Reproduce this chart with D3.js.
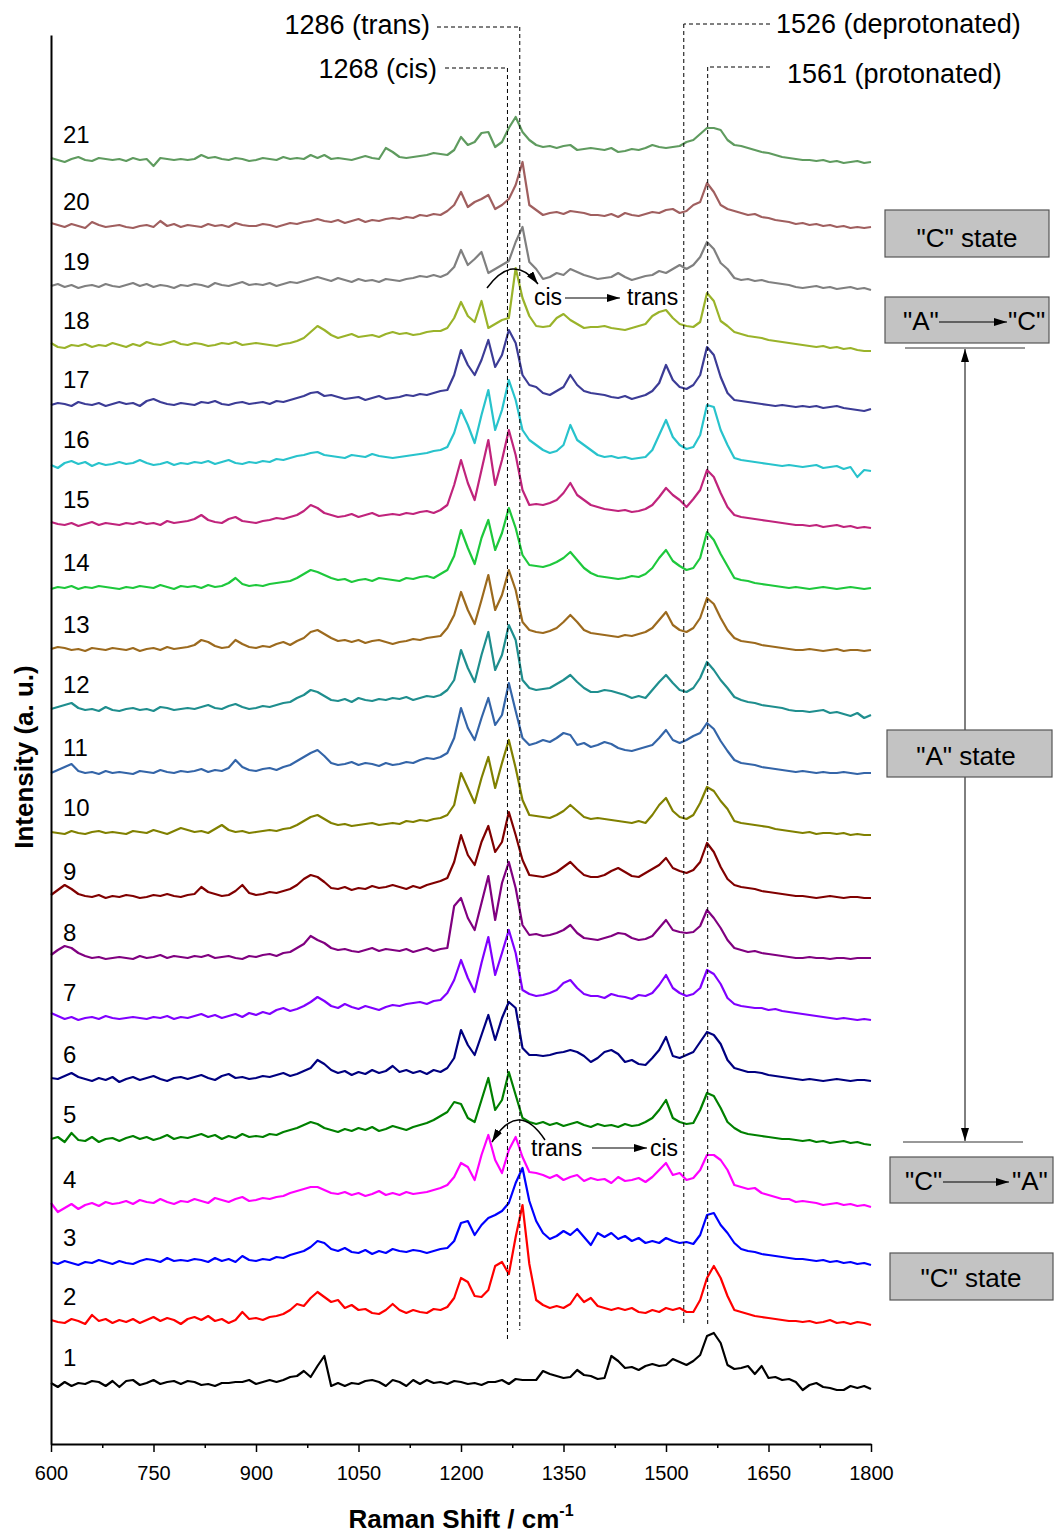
<!DOCTYPE html>
<html>
<head>
<meta charset="utf-8">
<script src="https://cdn.jsdelivr.net/npm/d3@7"></script>
<style>
body { margin: 0; background: #fff; }
text { font-family: "Liberation Sans", Arial, sans-serif; fill: #000; }
</style>
</head>
<body>
<script>
// Raman shift grid (cm-1), one sample every 10 cm-1
var shifts = [
  600,610,620,630,640,650,660,670,680,690,
  700,710,720,730,740,750,760,770,780,790,
  800,810,820,830,840,850,860,870,880,890,
  900,910,920,930,940,950,960,970,980,990,
  1000,1010,1020,1030,1040,1050,1060,1070,1080,1090,
  1100,1110,1120,1130,1140,1150,1160,1170,1180,1190,
  1200,1210,1220,1230,1240,1250,1260,1270,1280,1290,
  1300,1310,1320,1330,1340,1350,1360,1370,1380,1390,
  1400,1410,1420,1430,1440,1450,1460,1470,1480,1490,
  1500,1510,1520,1530,1540,1550,1560,1570,1580,1590,
  1600,1610,1620,1630,1640,1650,1660,1670,1680,1690,
  1700,1710,1720,1730,1740,1750,1760,1770,1780,1790,
  1800
];

// intensities (a.u.), relative to each trace's own baseline
var s1 = [
  0,-4,1,-3,0,-1,2,1,-3,2,
  -4,2,3,-2,0,3,-1,1,2,-1,
  2,1,-2,-1,-3,0,0,1,1,3,
  -1,1,3,1,3,6,7,12,6,17,
  27,-3,0,-3,0,-1,2,3,1,-3,
  3,1,-3,3,-1,3,0,1,-1,2,
  1,-1,0,-2,1,1,3,-1,4,3,
  3,3,12,9,7,5,6,13,8,7,
  4,5,27,22,15,16,13,17,19,17,
  18,24,21,18,22,28,47,50,40,18,
  14,15,17,9,17,5,6,3,4,1,
  -7,-2,0,-4,-5,-7,-7,-3,-5,-3,
  -6];
var s2 = [
  2,0,-1,3,1,-2,7,1,3,-1,
  2,0,3,-1,2,5,1,4,2,-2,
  3,5,2,6,1,3,-1,2,10,3,
  4,2,5,6,8,12,18,16,24,30,
  25,20,22,14,17,12,13,9,8,12,
  18,12,9,12,10,9,13,12,15,24,
  44,40,26,25,32,56,60,48,85,117,
  58,22,17,14,16,14,18,28,20,24,
  16,14,12,14,12,14,10,9,12,10,
  14,12,14,10,10,22,44,56,44,26,
  12,10,8,6,5,4,3,2,1,1,
  0,1,-1,0,2,-1,0,-2,0,-1,
  -3];
var s3 = [
  1,-1,2,0,-2,1,0,3,1,-1,
  2,0,-1,2,4,3,1,5,2,3,
  2,4,3,1,5,2,4,1,7,3,
  2,4,3,6,5,8,10,12,16,22,
  20,14,12,15,11,10,13,9,12,10,
  14,12,11,13,12,10,12,14,15,22,
  40,42,28,38,45,48,52,60,80,95,
  62,42,30,24,27,32,28,34,26,18,
  30,26,30,24,27,22,25,20,22,20,
  25,22,20,21,19,28,48,50,38,30,
  20,14,12,11,9,8,7,6,5,4,
  4,3,2,3,1,2,0,1,-1,0,
  -2];
var s4 = [
  2,-7,-3,1,-4,0,2,-1,3,1,
  2,4,1,5,3,2,6,3,1,4,
  3,6,4,2,7,5,3,6,8,4,
  5,7,6,8,9,12,14,16,18,18,
  15,12,11,13,10,12,9,11,14,10,
  12,10,13,11,12,13,15,17,20,28,
  42,38,25,50,70,45,32,55,68,48,
  33,32,30,27,30,25,28,30,24,27,
  25,26,22,28,24,25,27,23,28,35,
  42,30,32,25,27,35,50,50,45,35,
  20,18,16,17,12,10,8,6,6,3,
  4,3,2,0,1,2,0,1,-1,0,
  -2];
var s5 = [
  1,3,-2,7,0,-1,3,-2,1,2,
  -1,2,4,1,3,0,2,5,1,3,
  2,4,6,3,5,1,4,2,6,3,
  4,3,6,5,8,10,12,15,18,16,
  12,10,8,11,9,12,10,13,9,11,
  14,12,10,13,15,17,20,24,28,38,
  36,22,18,40,62,30,40,68,45,22,
  18,16,18,15,17,14,16,18,15,13,
  16,14,15,13,16,14,15,18,22,30,
  40,22,18,16,17,30,47,44,32,18,
  12,8,6,5,4,3,2,1,1,0,
  -1,0,-2,-1,-3,-2,-1,-3,-2,-4,
  -5];
var s6 = [
  2,1,4,7,3,1,-1,2,0,3,
  -2,1,3,0,2,4,1,-1,2,3,
  1,3,5,2,0,4,6,2,3,1,
  2,4,3,5,7,4,6,9,12,20,
  16,10,7,9,5,8,6,10,7,9,
  14,8,10,7,9,6,10,8,12,22,
  50,35,25,45,65,40,62,78,72,32,
  25,25,24,25,27,28,30,28,24,18,
  22,28,30,26,18,20,16,15,22,30,
  43,24,22,25,28,38,48,45,36,20,
  12,10,8,8,7,5,4,3,2,1,
  0,1,0,-1,0,1,0,-1,0,0,
  -1];
var s7 = [
  5,2,-1,1,-2,0,1,-1,2,0,
  -1,0,1,0,-1,1,0,2,-1,1,
  0,2,4,1,3,0,2,4,1,5,
  3,6,4,8,10,7,9,12,16,21,
  17,12,10,14,11,9,12,10,8,11,
  13,12,14,15,16,14,17,18,25,38,
  58,40,26,55,81,43,65,88,65,28,
  24,22,23,25,28,35,38,30,24,22,
  22,20,24,22,21,19,23,22,25,33,
  43,30,25,22,24,30,48,44,34,20,
  14,12,11,10,10,8,9,7,6,5,
  4,3,2,1,0,-1,0,-1,-2,-1,
  -2];
var s8 = [
  3,8,12,10,5,2,0,1,-1,0,
  1,0,-1,2,0,1,3,0,2,1,
  0,2,1,3,0,1,2,0,-1,2,
  1,3,4,2,5,6,10,14,22,18,
  15,10,8,9,7,6,8,10,7,9,
  8,7,9,6,8,10,7,9,10,52,
  60,40,28,55,82,38,75,96,70,33,
  23,24,22,23,25,28,33,25,20,19,
  18,20,22,25,24,20,18,19,22,30,
  38,28,26,25,26,32,48,40,30,18,
  10,8,6,7,5,4,3,2,1,0,
  0,1,0,0,-1,0,0,-1,0,0,
  0];
var s9 = [
  2,7,12,8,3,1,0,2,-1,1,
  0,2,1,-1,0,2,1,3,1,0,
  2,3,10,5,3,1,2,6,12,4,
  2,3,5,4,6,8,12,18,22,20,
  15,9,8,10,7,9,8,11,9,10,
  12,10,8,11,9,12,14,16,19,35,
  62,42,32,55,71,45,55,85,62,37,
  22,21,20,22,25,30,35,28,22,20,
  20,22,26,29,25,21,20,24,28,32,
  39,29,26,24,27,35,54,45,30,18,
  12,10,9,8,6,5,4,3,2,1,
  1,0,-1,0,1,0,-1,0,0,-1,
  -1];
var s10 = [
  1,0,-1,2,0,-1,1,2,0,1,
  0,-1,2,1,0,3,1,-1,2,5,
  3,1,2,0,4,8,3,1,2,0,
  1,2,3,2,4,5,8,12,16,18,
  14,10,8,9,7,8,9,10,8,9,
  10,9,12,11,13,12,14,15,18,28,
  60,45,30,55,76,45,70,93,65,33,
  18,17,16,15,18,22,28,22,16,14,
  15,14,13,12,11,10,12,10,18,28,
  35,22,16,14,18,30,46,42,32,24,
  12,10,9,8,7,6,4,3,2,1,
  0,1,-1,0,0,-1,0,-2,-1,-2,
  -2];
var s11 = [
  0,3,6,9,2,0,1,-1,2,0,
  1,0,-1,2,1,0,3,1,0,2,
  1,2,4,1,3,2,5,13,6,3,
  2,4,5,3,6,8,12,16,20,23,
  17,10,8,9,11,8,10,9,7,10,
  8,9,11,10,13,15,14,16,20,35,
  65,45,33,55,75,48,58,90,62,35,
  28,30,33,31,35,40,38,28,30,26,
  28,31,29,25,23,22,24,26,28,35,
  43,33,30,33,37,40,50,44,32,22,
  13,10,9,8,6,5,4,3,2,1,
  2,1,0,1,0,0,1,0,-1,0,
  0];
var s12 = [
  1,3,5,7,2,0,1,-1,3,0,
  -1,1,2,0,1,-1,3,2,0,1,
  2,1,3,5,2,1,4,6,3,1,
  2,4,3,5,7,8,12,15,20,18,
  14,10,9,11,8,12,10,9,11,10,
  12,11,13,10,12,14,13,15,20,30,
  60,42,28,55,78,40,55,85,70,30,
  22,20,21,22,26,30,35,28,22,18,
  18,20,19,17,15,12,14,12,20,28,
  35,27,20,18,22,32,48,40,30,22,
  13,10,8,7,5,4,3,2,0,-1,
  -1,-2,-1,0,-3,-2,-4,-6,-3,-8,
  -5];
var s13 = [
  1,3,2,0,1,-1,2,1,0,2,
  1,0,2,-1,1,2,0,3,1,2,
  3,5,10,8,4,2,3,10,6,3,
  2,4,3,6,8,5,9,12,18,20,
  16,12,9,10,8,10,7,9,10,8,
  6,8,9,11,10,12,13,14,22,35,
  58,40,26,50,75,40,55,80,60,28,
  20,18,17,19,22,28,35,28,20,17,
  16,15,14,13,15,14,16,18,22,30,
  38,25,20,18,22,32,52,46,32,20,
  12,9,8,7,5,4,3,2,1,0,
  0,1,0,-1,0,1,-1,0,0,-1,
  0];
var s14 = [
  -1,1,0,2,-1,1,0,2,1,0,
  -1,1,0,2,1,0,3,1,-1,2,
  1,2,0,3,1,2,5,10,4,2,
  3,2,4,5,6,7,10,14,18,16,
  13,10,8,9,6,8,9,7,10,9,
  8,7,10,9,11,12,10,14,18,32,
  58,40,24,50,68,38,55,80,60,33,
  23,22,21,23,26,30,36,28,20,15,
  12,11,10,9,10,12,11,14,20,30,
  38,27,22,18,20,30,56,48,34,22,
  10,8,7,5,4,3,2,1,0,1,
  0,-1,0,1,0,-1,0,1,0,-1,
  0];
var s15 = [
  3,1,0,2,-1,1,3,0,2,1,
  0,2,1,3,1,2,0,4,2,3,
  4,6,10,5,3,2,6,8,4,3,
  2,4,5,7,6,8,10,14,20,17,
  12,10,8,9,11,8,10,12,9,10,
  11,10,12,11,13,14,12,15,20,40,
  65,42,25,55,85,40,65,95,70,35,
  20,21,20,22,25,32,42,30,25,20,
  18,16,15,14,15,13,14,16,20,28,
  37,30,25,18,26,35,55,48,32,18,
  10,8,7,6,5,4,3,2,1,0,
  0,-1,0,-2,-1,0,-2,-1,-3,-2,
  -3];
var s16 = [
  0,-3,2,4,1,3,-1,2,0,1,
  3,1,2,5,2,0,1,3,0,2,
  1,3,2,4,1,3,5,2,1,3,
  2,4,3,6,5,7,9,10,12,13,
  10,9,8,7,10,9,8,11,9,8,
  7,8,9,10,11,12,14,15,18,32,
  55,40,22,50,75,35,55,85,65,35,
  25,20,15,12,14,20,40,25,20,15,
  10,8,9,7,8,6,7,8,15,30,
  45,28,20,16,18,30,60,58,35,20,
  7,5,4,3,2,1,0,-1,0,-1,
  -2,-1,0,-3,-2,-1,-4,-2,-12,-5,
  -6];
var s17 = [
  0,2,1,-1,3,1,0,2,-1,1,
  3,1,2,-1,4,6,3,1,0,2,
  1,0,3,2,4,1,0,2,3,1,
  2,3,1,4,3,5,7,9,12,13,
  9,10,8,6,7,8,5,7,9,6,
  7,8,10,9,11,10,12,14,15,30,
  55,40,30,45,65,38,50,75,62,30,
  20,18,12,10,14,18,30,20,14,12,
  11,10,8,7,9,6,8,10,14,22,
  40,25,18,16,20,30,58,50,28,12,
  5,4,3,2,1,0,-1,0,-1,-2,
  -1,-2,-1,-3,-2,-1,-3,-4,-5,-6,
  -4];
var s18 = [
  3,-1,-2,1,0,2,-1,1,0,3,
  1,-1,2,0,4,2,1,3,5,2,
  1,3,2,0,1,3,2,4,1,2,
  3,2,1,0,2,3,5,8,14,20,
  16,11,8,10,12,9,10,11,9,12,
  14,12,13,11,12,14,15,15,18,28,
  44,30,24,45,18,22,26,28,78,48,
  30,20,19,20,28,32,26,22,18,19,
  19,20,18,17,16,18,20,22,30,34,
  36,28,22,20,19,24,53,45,25,20,
  14,12,10,9,8,6,5,4,3,2,
  1,0,-1,0,-2,-1,-3,-2,-4,-5,
  -5];
var s19 = [
  1,3,0,2,-1,1,2,0,3,1,
  0,2,4,1,3,0,2,1,-1,2,
  1,3,2,0,4,2,1,3,5,2,
  3,2,4,1,3,5,4,6,8,10,
  8,6,9,7,5,8,6,7,5,8,
  7,6,8,9,11,10,12,10,13,20,
  37,22,28,35,14,18,22,26,45,60,
  25,18,8,10,14,12,18,15,12,10,
  8,9,10,14,10,7,9,11,12,16,
  14,18,22,18,22,30,45,38,24,18,
  9,7,8,6,7,5,4,3,2,0,
  -1,0,1,-1,0,-2,-1,0,-2,-1,
  -3];
var s20 = [
  4,2,0,3,1,-1,5,2,0,1,
  2,0,-1,1,2,0,6,1,3,0,
  2,1,0,3,1,2,0,4,2,1,
  1,3,2,0,2,4,3,5,6,8,
  6,5,7,4,6,8,5,7,6,8,
  9,8,10,9,12,11,13,12,16,22,
  35,20,25,28,32,18,22,28,42,65,
  22,17,12,14,15,13,16,15,14,12,
  12,11,13,10,14,12,11,13,15,14,
  17,18,14,16,22,25,44,35,22,18,
  16,14,12,13,10,9,7,6,5,3,
  4,2,3,1,2,0,1,-1,0,-1,
  0];
var s21 = [
  2,0,-2,1,3,0,-1,2,1,0,
  1,-1,2,0,1,-6,2,1,0,1,
  0,1,5,2,3,1,0,2,1,-1,
  0,2,1,0,3,1,2,1,5,2,
  5,1,2,1,0,2,4,2,1,12,
  8,3,2,3,4,5,7,6,5,10,
  23,15,18,27,28,13,18,32,43,28,
  20,15,13,14,12,14,15,10,11,12,
  11,10,12,8,9,11,10,12,15,13,
  12,13,14,18,20,26,32,32,30,20,
  15,14,12,10,8,7,5,3,2,1,
  0,0,-1,0,-2,-1,-3,-2,-1,-3,
  -2];

var spectra = [s1,s2,s3,s4,s5,s6,s7,s8,s9,s10,s11,s12,s13,s14,s15,s16,s17,s18,s19,s20,s21];
var names = ["1","2","3","4","5","6","7","8","9","10","11","12","13","14","15","16","17","18","19","20","21"];
// vertical stacking offset of each trace (a.u.)
var offsets = [61,122,181,239,304,364,426,486,547,611,671,734,794,856,919,979,1039,1098,1157,1217,1284];
var colors = ["#000000","#ff0000","#0000ff","#ff00ff","#008000","#000080","#8000ff","#800080","#800000","#808000",
              "#3465a8","#1f8e8e","#9c6a1e","#1ec83c","#c0247c","#28c3cc","#3c3c96","#9ab32a","#808080","#a05f5f","#5f9b5f"];

var xTicks = [600,750,900,1050,1200,1350,1500,1650,1800];
var xMinor = [675,825,975,1125,1275,1425,1575,1725];

var bands = [1268, 1286, 1526, 1561];
var bandLabels = ["1268 (cis)", "1286 (trans)", "1526 (deprotonated)", "1561 (protonated)"];

var W = 1054, H = 1534;
var svg = d3.select("body").append("svg").attr("width", W).attr("height", H);

var x = d3.scaleLinear().domain([600, 1800]).range([51, 871]);
var y = d3.scaleLinear().domain([0, 1409]).range([1444, 35]);

var defs = svg.append("defs");
defs.append("marker")
    .attr("id", "head")
    .attr("viewBox", "0 0 13 8")
    .attr("refX", 13).attr("refY", 4)
    .attr("markerWidth", 13).attr("markerHeight", 8)
    .attr("markerUnits", "userSpaceOnUse")
    .attr("orient", "auto-start-reverse")
  .append("path")
    .attr("d", "M0,0L13,4L0,8Z")
    .attr("fill", "#000");

// spectra
var line = d3.line()
    .x(function(d, i) { return x(shifts[i]); })
    .y(function(d) { return y(d); });

spectra.forEach(function(s, k) {
  svg.append("path")
      .datum(s.map(function(v) { return v + offsets[k]; }))
      .attr("d", line)
      .attr("fill", "none")
      .attr("stroke", colors[k])
      .attr("stroke-width", 2.2)
      .attr("stroke-linejoin", "round");

  svg.append("text")
      .attr("x", 63)
      .attr("y", y(offsets[k]) - 17)
      .attr("font-size", 24)
      .text(names[k]);
});

// dashed band markers with their leader lines
var bandTop = [68, 27, 24, 67];
var bandBottom = [1342, 1330, 1326, 1325];
var leaderEnd = [445, 437, 770, 770];
var dash = "4,3";
bands.forEach(function(b, i) {
  var bx = x(b);
  svg.append("line").attr("x1", bx).attr("x2", bx).attr("y1", bandTop[i]).attr("y2", bandBottom[i])
      .attr("stroke", "#000").attr("stroke-width", 1).attr("stroke-dasharray", dash);
  svg.append("line").attr("x1", leaderEnd[i]).attr("x2", bx).attr("y1", bandTop[i]).attr("y2", bandTop[i])
      .attr("stroke", "#000").attr("stroke-width", 1).attr("stroke-dasharray", dash);
});
svg.append("text").attr("x", 437).attr("y", 78).attr("text-anchor", "end").attr("font-size", 27).text(bandLabels[0]);
svg.append("text").attr("x", 430).attr("y", 34).attr("text-anchor", "end").attr("font-size", 27).text(bandLabels[1]);
svg.append("text").attr("x", 776).attr("y", 33).attr("font-size", 27).text(bandLabels[2]);
svg.append("text").attr("x", 787).attr("y", 83).attr("font-size", 27).text(bandLabels[3]);

// axes
var xAxis = d3.axisBottom(x).tickValues(xTicks).tickSize(8).tickSizeOuter(0).tickPadding(14).tickFormat(d3.format("d"));
var gx = svg.append("g").attr("transform", "translate(0,1444)").call(xAxis);
gx.selectAll("text").attr("font-size", 20).attr("font-family", "Liberation Sans, Arial, sans-serif").attr("fill", "#000");
gx.selectAll("line").attr("stroke-width", 1.5);
gx.select(".domain").attr("stroke-width", 2);

var gm = svg.append("g").attr("transform", "translate(0,1444)")
    .call(d3.axisBottom(x).tickValues(xMinor).tickSize(4).tickSizeOuter(0).tickFormat(""));
gm.select(".domain").remove();
gm.selectAll("line").attr("stroke-width", 1.5);

var gy = svg.append("g").attr("transform", "translate(51,0)")
    .call(d3.axisLeft(y).tickValues([]).tickSizeOuter(0));
gy.select(".domain").attr("stroke-width", 2);

// axis titles
var xt = svg.append("text").attr("x", 461).attr("y", 1528).attr("text-anchor", "middle")
    .attr("font-size", 26).attr("font-weight", "bold");
xt.append("tspan").text("Raman Shift / cm");
xt.append("tspan").attr("font-size", 16).attr("dy", -12).text("-1");

svg.append("text").attr("transform", "translate(33,757) rotate(-90)").attr("text-anchor", "middle")
    .attr("font-size", 26).attr("font-weight", "bold").text("Intensity (a. u.)");

// isomerisation arrows
svg.append("path").attr("d", "M487,288 Q513,252 538,284").attr("fill", "none")
    .attr("stroke", "#000").attr("stroke-width", 1.5).attr("marker-end", "url(#head)");
svg.append("text").attr("x", 534).attr("y", 305).attr("font-size", 23).text("cis");
svg.append("line").attr("x1", 565).attr("x2", 620).attr("y1", 298).attr("y2", 298)
    .attr("stroke", "#000").attr("stroke-width", 1.2).attr("marker-end", "url(#head)");
svg.append("text").attr("x", 627).attr("y", 305).attr("font-size", 23).text("trans");

svg.append("path").attr("d", "M545,1140 Q518,1099 492,1142").attr("fill", "none")
    .attr("stroke", "#000").attr("stroke-width", 1.5).attr("marker-end", "url(#head)");
svg.append("text").attr("x", 531).attr("y", 1156).attr("font-size", 23).text("trans");
svg.append("line").attr("x1", 592).attr("x2", 647).attr("y1", 1148).attr("y2", 1148)
    .attr("stroke", "#000").attr("stroke-width", 1.2).attr("marker-end", "url(#head)");
svg.append("text").attr("x", 650).attr("y", 1156).attr("font-size", 23).text("cis");

// range of the "A" state (drawn first so the box sits on top)
svg.append("line").attr("x1", 905).attr("x2", 1025).attr("y1", 348).attr("y2", 348).attr("stroke", "#333").attr("stroke-width", 1);
svg.append("line").attr("x1", 903).attr("x2", 1023).attr("y1", 1142).attr("y2", 1142).attr("stroke", "#333").attr("stroke-width", 1);
svg.append("line").attr("x1", 965).attr("x2", 965).attr("y1", 349).attr("y2", 1141)
    .attr("stroke", "#000").attr("stroke-width", 1)
    .attr("marker-start", "url(#head)").attr("marker-end", "url(#head)");

// state boxes on the right
function stateBox(x0, y0, w, h) {
  svg.append("rect").attr("x", x0).attr("y", y0).attr("width", w).attr("height", h)
      .attr("fill", "#c3c3c3").attr("stroke", "#555").attr("stroke-width", 1.2);
}
stateBox(885, 210, 164, 47);
svg.append("text").attr("x", 967).attr("y", 247).attr("text-anchor", "middle").attr("font-size", 26).text("\"C\" state");

stateBox(885, 297, 164, 46);
svg.append("text").attr("x", 903).attr("y", 330).attr("font-size", 26).text("\"A\"");
svg.append("line").attr("x1", 939).attr("x2", 1007).attr("y1", 322).attr("y2", 322)
    .attr("stroke", "#000").attr("stroke-width", 1.2).attr("marker-end", "url(#head)");
svg.append("text").attr("x", 1008).attr("y", 330).attr("font-size", 26).text("\"C\"");

stateBox(887, 730, 165, 47);
svg.append("text").attr("x", 966).attr("y", 765).attr("text-anchor", "middle").attr("font-size", 26).text("\"A\" state");

stateBox(890, 1157, 163, 46);
svg.append("text").attr("x", 905).attr("y", 1190).attr("font-size", 26).text("\"C\"");
svg.append("line").attr("x1", 943).attr("x2", 1009).attr("y1", 1182).attr("y2", 1182)
    .attr("stroke", "#000").attr("stroke-width", 1.2).attr("marker-end", "url(#head)");
svg.append("text").attr("x", 1012).attr("y", 1190).attr("font-size", 26).text("\"A\"");

stateBox(890, 1253, 163, 47);
svg.append("text").attr("x", 971).attr("y", 1287).attr("text-anchor", "middle").attr("font-size", 26).text("\"C\" state");
</script>
</body>
</html>
